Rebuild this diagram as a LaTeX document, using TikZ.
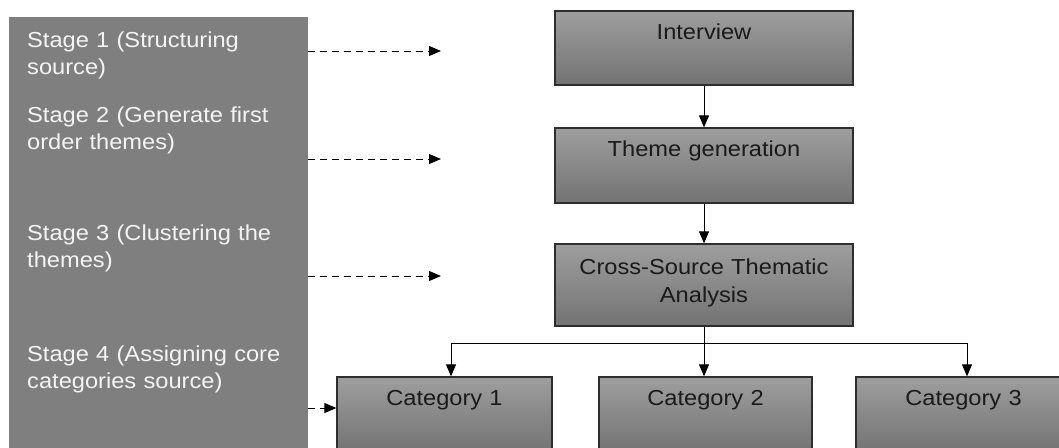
\documentclass[tikz,border=0pt]{standalone}
\usepackage{fontspec}
\setmainfont{Liberation Sans}[FakeStretch=1.09]
\usetikzlibrary{arrows.meta}

\definecolor{panelgray}{HTML}{7F7F7F}
\definecolor{paneltext}{HTML}{F4F4F4}
\definecolor{boxtop}{HTML}{9E9E9E}
\definecolor{boxbottom}{HTML}{737373}
\definecolor{boxline}{HTML}{2E2E2E}
\definecolor{boxtext}{HTML}{1A1A1A}

\begin{document}
\begin{tikzpicture}[x=1pt,y=-1pt,
  every node/.style={inner sep=0pt},
  stepbox/.style={draw=boxline, line width=1.3pt, top color=boxtop, bottom color=boxbottom,
    minimum width=298pt, minimum height=75pt},
  catbox/.style={stepbox, minimum width=215pt},
  boxlabel/.style={text=boxtext, font=\fontsize{21.7}{28}\selectfont, text width=290pt,
    align=center, anchor=base},
  stagetext/.style={text=paneltext, font=\fontsize{21.7}{27.5}\selectfont, text width=285pt,
    align=left, anchor=base west},
  conn/.style={line width=1pt, -{Triangle[length=12pt,width=10pt]}},
  dashconn/.style={conn, dash pattern=on 7pt off 5pt}
]
\useasboundingbox (0,0) rectangle (1059,447);
\clip (0,0) rectangle (1059,447);

% stage panel on the left
\node[fill=panelgray, minimum width=299pt, minimum height=435pt] (panel) at (158.5,234.5) {};
\node[stagetext] (s1) at (27,47)  {Stage 1 (Structuring\\source)};
\node[stagetext] (s2) at (27,122) {Stage 2 (Generate first\\order themes)};
\node[stagetext] (s3) at (27,240) {Stage 3 (Clustering the\\themes)};
\node[stagetext] (s4) at (27,361) {Stage 4 (Assigning core\\categories source)};

% process boxes
\node[stepbox, minimum height=74pt] (int) at (704,48) {};
\node[stepbox] (thm) at (704,165.5) {};
\node[stepbox, minimum height=82pt] (xsa) at (704,285) {};
\node[catbox] (c1) at (444.5,414.5) {};
\node[catbox, minimum width=213pt] (c2) at (705.5,414.5) {};
\node[catbox] (c3) at (963.5,414.5) {};

\node[boxlabel] (intT) at ([yshift=-29pt]int.north) {Interview};
\node[boxlabel] (thmT) at ([yshift=-29pt]thm.north) {Theme generation};
\node[boxlabel] (xsaT) at ([yshift=-31pt]xsa.north) {Cross-Source Thematic\\Analysis};
\node[boxlabel, text width=210pt] (c1T) at ([yshift=-29pt]c1.north) {Category 1};
\node[boxlabel, text width=210pt] (c2T) at ([yshift=-29pt]c2.north) {Category 2};
\node[boxlabel, text width=210pt] (c3T) at ([yshift=-29pt]c3.north) {Category 3};

% flow between boxes
\draw[conn] (int) -- (thm);
\draw[conn] (thm) -- (xsa);
\draw[conn] (xsa.south) -- (xsa.south |- c2.north);
\draw[conn] (xsa.south) ++(0,17) -| ([xshift=6.5pt]c1.north);
\draw[conn] (xsa.south) ++(0,17) -| ([xshift=3.5pt]c3.north);

% dashed pointers from the stages
\coordinate (t1) at (441,51);
\coordinate (t2) at (441,159);
\coordinate (t3) at (441,276);
\coordinate (t4) at ([yshift=6.5pt]c1.west);
\draw[dashconn] (panel.east |- t1) -- (t1);
\draw[dashconn] (panel.east |- t2) -- (t2);
\draw[dashconn] (panel.east |- t3) -- (t3);
\draw[dashconn] (panel.east |- t4) -- (t4);
\end{tikzpicture}
\end{document}
